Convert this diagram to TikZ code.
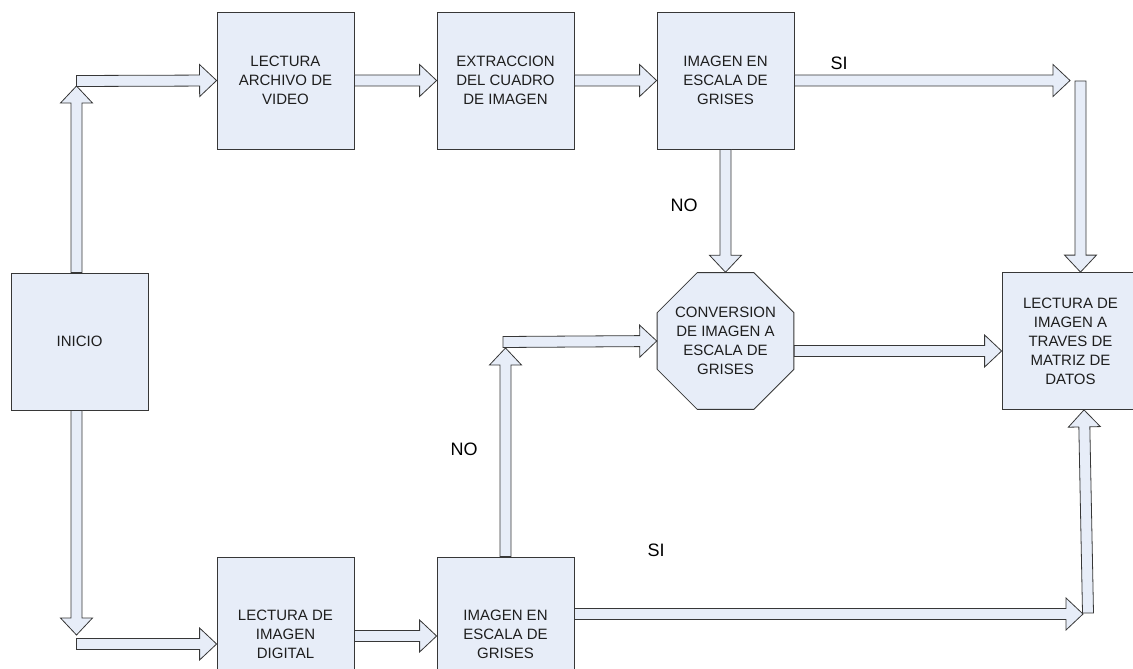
\documentclass[tikz,border=0pt]{standalone}
\usepackage{fontspec}
\setmainfont{Liberation Sans}
\usetikzlibrary{calc,shapes.geometric}
\definecolor{boxfill}{RGB}{231,237,248}
\definecolor{boxline}{RGB}{55,55,55}
\definecolor{textdark}{RGB}{30,30,30}

% hollow block arrow from #1 to #2 (named coordinates)
\newcommand{\blockarrow}[2]{%
  \coordinate (ba-h) at ($(#2)!17pt!(#1)$);
  \filldraw[arrowbody] ($(#1)!5.5pt!90:(#2)$) -- ($(ba-h)!5.5pt!90:(#2)$)
    -- ($(ba-h)!16pt!90:(#2)$) -- (#2) -- ($(ba-h)!16pt!-90:(#2)$)
    -- ($(ba-h)!5.5pt!-90:(#2)$) -- ($(#1)!5.5pt!-90:(#2)$) -- cycle;}

\begin{document}
\begin{tikzpicture}[x=1pt,y=-1pt,
    box/.style={draw=boxline,fill=boxfill,line width=0.8pt,
      minimum width=137pt,minimum height=137pt,inner sep=0pt,
      align=center,text=textdark,font=\fontsize{15}{19}\selectfont},
    octo/.style={draw=boxline,fill=boxfill,line width=0.8pt,inner sep=0pt,
      regular polygon,regular polygon sides=8,minimum size=148pt},
    octotext/.style={align=center,text=textdark,inner sep=0pt,
      font=\fontsize{15}{19}\selectfont},
    arrowbody/.style={draw=boxline,fill=boxfill,line width=0.8pt,
      line join=miter},
    lbl/.style={font=\fontsize{18}{20}\selectfont,text=black}]
  \useasboundingbox (0,0) rectangle (1133,669);
  \clip (0,0) rectangle (1133,669);

  % boxes
  \node[box] (lectura) at (285.5,80.5) {LECTURA\\ARCHIVO DE\\VIDEO};
  \node[box] (extraccion) at (505.5,80.5) {EXTRACCION\\DEL CUADRO\\DE IMAGEN};
  \node[box] (gris1) at (725.5,80.5) {IMAGEN EN\\ESCALA DE\\GRISES};
  \node[box] (inicio) at (79.5,341.5) {INICIO};
  \node[octo,label={[octotext]center:CONVERSION\\DE IMAGEN A\\ESCALA DE\\GRISES}]
    (conv) at (725.5,341) {};
  \node[box] (lecmat) at (1070.5,341) {LECTURA DE\\IMAGEN A\\TRAVES DE\\MATRIZ DE\\DATOS};
  \node[box,minimum height=154pt] (digital) at (285.5,634) {LECTURA DE\\IMAGEN\\DIGITAL};
  \node[box,minimum height=154pt] (gris2) at (505.5,634) {IMAGEN EN\\ESCALA DE\\GRISES};

  % labels
  \node[lbl] (si1) at (839,63) {SI};
  \node[lbl] (no1) at (684,205) {NO};
  \node[lbl] (no2) at (464,449) {NO};
  \node[lbl] (si2) at (656,550) {SI};

  % free ends of the connectors
  \coordinate (iniTop) at ($(inicio.north)+(-3,0)$);
  \coordinate (iniBot) at ($(inicio.south)+(-3,0)$);
  \coordinate (upTip) at (76.5,86);
  \coordinate (upStart) at (76.5,81);
  \coordinate (downTip) at (76.5,635);
  \coordinate (downStart) at (76.5,644);
  \coordinate (digIn) at ($(digital.west)+(0,10)$);
  \coordinate (digOut) at ($(digital.east)+(0,2)$);
  \coordinate (grisIn) at ($(gris2.west)+(0,2)$);
  \coordinate (siTip) at (1070,80.5);
  \coordinate (rightTop) at (1080.5,81);
  \coordinate (matTop) at ($(lecmat.north)+(10,0)$);
  \coordinate (convOut) at ($(conv.east)+(0,10)$);
  \coordinate (matIn) at ($(lecmat.west)+(0,10)$);
  \coordinate (noTip) at (505.5,348);
  \coordinate (noStart) at (503,342);
  \coordinate (grisOut) at ($(gris2.east)+(0,-20)$);
  \coordinate (siTip2) at (1083,614);
  \coordinate (rightBot) at (1088,613);
  \coordinate (matBot) at ($(lecmat.south)+(13.5,0)$);

  % connectors
  \blockarrow{iniTop}{upTip}
  \blockarrow{upStart}{lectura.west}
  \blockarrow{lectura.east}{extraccion.west}
  \blockarrow{extraccion.east}{gris1.west}
  \blockarrow{gris1.east}{siTip}
  \blockarrow{rightTop}{matTop}
  \blockarrow{gris1.south}{conv.north}
  \blockarrow{convOut}{matIn}
  \blockarrow{iniBot}{downTip}
  \blockarrow{downStart}{digIn}
  \blockarrow{digOut}{grisIn}
  \blockarrow{gris2.north}{noTip}
  \blockarrow{noStart}{conv.west}
  \blockarrow{grisOut}{siTip2}
  \blockarrow{rightBot}{matBot}
\end{tikzpicture}
\end{document}
